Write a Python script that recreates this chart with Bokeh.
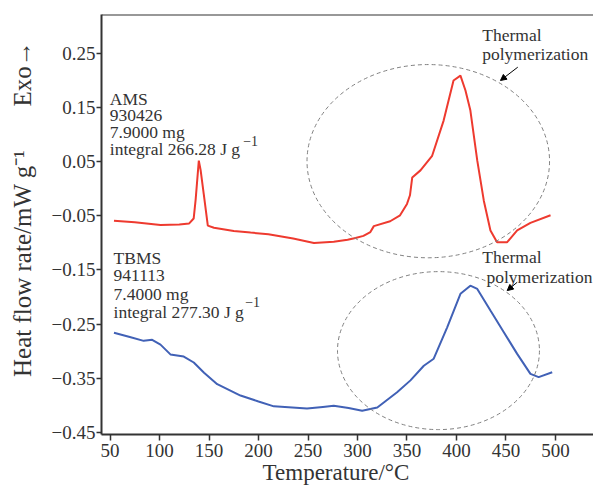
from bokeh.plotting import figure
from bokeh.models import Label, Span, FixedTicker, Arrow, NormalHead, Range1d
from bokeh.embed import file_html
from bokeh.resources import INLINE

# ---- data ----
ams_temp = [54, 75, 101, 120, 130, 134.5, 136.5, 139.7, 141.5, 144.7, 148.8, 155, 175, 192, 210, 235,
            256, 276, 290, 298, 306, 313, 316.5, 333, 343, 350, 353, 355.3, 363.6, 375.4, 387, 397,
            404, 409, 414, 421, 427.6, 434.3, 441, 451, 461.3, 474.7, 495]
ams_heat = [-0.059, -0.062, -0.067, -0.066, -0.064, -0.055, -0.020, 0.052, 0.035, -0.010, -0.068, -0.072,
            -0.078, -0.081, -0.084, -0.092, -0.100, -0.098, -0.094, -0.091, -0.087, -0.080, -0.069, -0.060,
            -0.049, -0.028, -0.012, 0.021, 0.034, 0.061, 0.126, 0.200, 0.209, 0.182, 0.145, 0.052,
            -0.022, -0.077, -0.099, -0.099, -0.077, -0.063, -0.049]

tbms_temp = [54, 70, 84, 92.6, 101, 111, 124.5, 134.6, 145, 158.3, 181.8, 200, 215.5, 249, 265, 276,
             291, 304.7, 320, 340, 353.5, 367, 377, 390.6, 404, 414, 421, 434.3, 447.8, 461.3, 474.7,
             483, 496.7]
tbms_heat = [-0.266, -0.274, -0.281, -0.279, -0.288, -0.306, -0.310, -0.321, -0.340, -0.361, -0.382,
             -0.393, -0.402, -0.406, -0.403, -0.401, -0.405, -0.410, -0.404, -0.376, -0.354, -0.327,
             -0.314, -0.256, -0.194, -0.179, -0.185, -0.225, -0.265, -0.305, -0.342, -0.348, -0.339]

x_ticks = [50, 100, 150, 200, 250, 300, 350, 400, 450, 500]
y_ticks = [0.25, 0.15, 0.05, -0.05, -0.15, -0.25, -0.35, -0.45]
y_tick_labels = ["0.25", "0.15", "0.05", "\u22120.05", "\u22120.15", "\u22120.25", "\u22120.35", "\u22120.45"]

ams_info = ["AMS", "930426", "7.9000 mg", "integral 266.28 J g"]
tbms_info = ["TBMS", "941113", "7.4000 mg", "integral 277.30 J g"]
note_lines = ["Thermal", "polymerization"]
x_title = "Temperature/\u00b0C"
y_title = "Heat flow rate/mW g\u207b\u00b9"
exo_title = "Exo\u2192"

FONT = "Liberation Serif"
DARK = "#333333"
NB = "\u00a0"

p = figure(width=593, height=490, output_backend="svg", toolbar_location=None,
           x_range=Range1d(41.4, 538.4), y_range=Range1d(-0.454, 0.322),
           min_border_left=101, min_border_right=0, min_border_top=14, min_border_bottom=56)
p.outline_line_color = None
p.grid.visible = False
p.background_fill_color = "white"
p.border_fill_color = "white"

for ax in (p.xaxis, p.yaxis):
    ax.axis_line_width = 2
    ax.axis_line_color = DARK
    ax.major_tick_line_color = DARK
    ax.major_tick_line_width = 1.5
    ax.major_tick_in = 0
    ax.minor_tick_line_color = None
    ax.major_label_text_font = FONT
    ax.major_label_text_font_size = "19px"
    ax.major_label_text_color = DARK
    ax.axis_label_text_font = FONT
    ax.axis_label_text_font_style = "normal"
    ax.axis_label_text_color = DARK

p.xaxis.ticker = FixedTicker(ticks=x_ticks)
p.xaxis.major_tick_out = 6
p.xaxis.major_label_standoff = 3
p.xaxis.axis_label = x_title + NB * 4
p.xaxis.axis_label_text_font_size = "23px"
p.xaxis.axis_label_standoff = 0
p.xaxis.axis_label_text_baseline = "top"

p.yaxis.ticker = FixedTicker(ticks=y_ticks)
p.yaxis.major_label_overrides = dict(zip(y_ticks, y_tick_labels))
p.yaxis.major_tick_out = 5
p.yaxis.major_label_standoff = 1
p.yaxis.axis_label = NB * 5 + y_title + NB * 7 + exo_title
p.yaxis.axis_label_text_font_size = "25px"
p.yaxis.axis_label_standoff = 13

p.add_layout(Span(location=0.322, dimension="width", line_color=DARK, line_width=2))

# curves
p.line(ams_temp, ams_heat, line_color="#ee3a2f", line_width=2)
p.line(tbms_temp, tbms_heat, line_color="#4161b6", line_width=2)

# dashed ellipses
p.ellipse(x=[371.5], y=[0.051], width=[245], height=[0.357], fill_color=None,
          line_color="#808080", line_width=1, line_dash="4 3")
p.ellipse(x=[381.8], y=[-0.299], width=[204], height=[0.292], fill_color=None,
          line_color="#808080", line_width=1, line_dash="4 3")

def lab(x, y, t, size="17.5px", **kw):
    p.add_layout(Label(x=x, y=y, text=t, text_font=FONT, text_font_size=size,
                       text_color=DARK, text_baseline="alphabetic", **kw))

ams_y = [0.1659, 0.1354, 0.1045, 0.0738]
for yy, t in zip(ams_y, ams_info):
    lab(49.8, yy, t)
lab(184.5, 0.0880, "\u22121", size="14px")

tbms_y = [-0.1271, -0.1604, -0.1945, -0.2278]
for yy, t in zip(tbms_y, tbms_info):
    lab(53.6, yy, t)
lab(186.5, -0.2095, "\u22121", size="14px")

lab(426, 0.2833, note_lines[0])
lab(426, 0.2494, note_lines[1])
lab(426, -0.1265, note_lines[0])
lab(430.3, -0.1622, note_lines[1])

p.add_layout(Arrow(end=NormalHead(size=6, fill_color="black", line_color="black"),
                   x_start=461.9, y_start=0.2247, x_end=444.4, y_end=0.2001,
                   line_color="black", line_width=1))
p.add_layout(Arrow(end=NormalHead(size=6, fill_color="black", line_color="black"),
                   x_start=461.3, y_start=-0.1727, x_end=451.2, y_end=-0.1881,
                   line_color="black", line_width=1))

open("out.html", "w").write(file_html(p, INLINE))
